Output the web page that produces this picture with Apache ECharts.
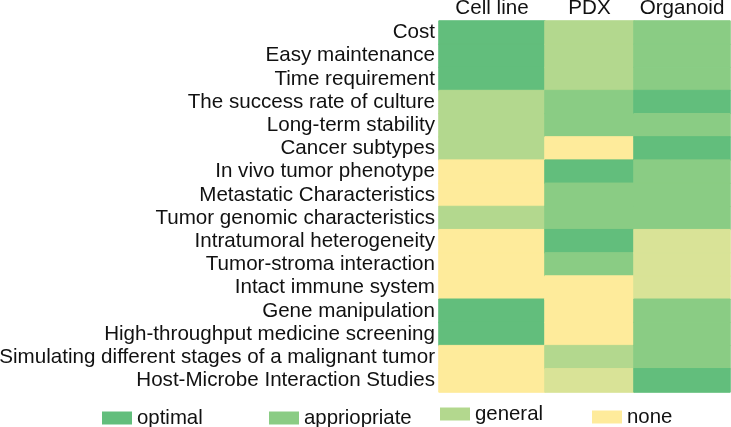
<!DOCTYPE html>
<html><head><meta charset="utf-8">
<script src="https://cdn.jsdelivr.net/npm/echarts@6/dist/echarts.min.js"></script>
<style>html,body{margin:0;padding:0;background:#fff}#c{width:731px;height:427px}</style>
</head><body><div id="c"></div>
<script>
// Levels: 4 = optimal, 3 = appriopriate, 2 = general, 1.5 = (between general and none), 1 = none
const columns = ['Cell line', 'PDX', 'Organoid'];
const rows = ['Cost', 'Easy maintenance', 'Time requirement', 'The success rate of culture',
  'Long-term stability', 'Cancer subtypes', 'In vivo tumor phenotype', 'Metastatic Characteristics',
  'Tumor genomic characteristics', 'Intratumoral heterogeneity', 'Tumor-stroma interaction',
  'Intact immune system', 'Gene manipulation', 'High-throughput medicine screening',
  'Simulating different stages of a malignant tumor', 'Host-Microbe Interaction Studies'];
const cellLine = [4, 4, 4, 2, 2, 2, 1, 1, 2, 1, 1, 1, 4, 4, 1, 1];
const pdx      = [2, 2, 2, 3, 3, 1, 4, 3, 3, 4, 3, 1, 1, 1, 2, 1.5];
const organoid = [3, 3, 3, 4, 3, 4, 3, 3, 3, 1.5, 1.5, 1.5, 3, 3, 3, 4];
const legendNames = ['optimal', 'appriopriate', 'general', 'none'];
const legendValues = [4, 3, 2, 1];

const colorOf = {4: '#62be7c', 3: '#8acc84', 2: '#b3d88e', 1.5: '#d9e397', 1: '#feeb9b'};
const colData = [cellLine, pdx, organoid];
const gridLefts = [439, 545, 634];
const gridWidths = [106, 89, 96];
const font = 'Liberation Sans, Arial, sans-serif';

const grids = [], xAxes = [], yAxes = [], series = [];
colData.forEach((vals, i) => {
  grids.push({left: gridLefts[i], width: gridWidths[i], top: 21, height: 371,
    containLabel: false, outerBoundsMode: 'none'});
  xAxes.push({type: 'category', gridIndex: i, position: 'top', data: [columns[i]],
    axisLine: {show: false}, axisTick: {show: false}, splitLine: {show: false},
    axisLabel: {fontSize: 20.6, color: '#111', fontFamily: font, margin: 2}});
  yAxes.push({type: 'category', gridIndex: i, inverse: true, data: rows,
    axisLine: {show: false}, axisTick: {show: false}, splitLine: {show: false},
    axisLabel: {show: i === 0, fontSize: 20.6, color: '#111', fontFamily: font, margin: 4, interval: 0}});
  series.push({type: 'heatmap', xAxisIndex: i, yAxisIndex: i, z: 2,
    data: vals.map((v, r) => ({value: [0, r, v],
      itemStyle: {borderColor: colorOf[v], borderWidth: 1}})),
    emphasis: {disabled: true}});
});
legendNames.forEach((n, k) => {
  series.push({type: 'bar', name: n, xAxisIndex: 0, yAxisIndex: 0, data: [],
    itemStyle: {color: colorOf[legendValues[k]]}});
});
const legendLefts = [102, 269, 440, 592];
const legendTops = [408, 408, 404, 407];
const legends = legendNames.map((n, k) => ({
  data: [n], left: legendLefts[k], top: legendTops[k], icon: 'rect', itemWidth: 30, itemHeight: 13,
  itemGap: 5, padding: 0, selectedMode: false,
  textStyle: {fontSize: 20.4, color: '#111', fontFamily: font}
}));

const chart = echarts.init(document.getElementById('c'), null, {renderer: 'canvas'});
chart.setOption({
  animation: false,
  grid: grids, xAxis: xAxes, yAxis: yAxes,
  legend: legends,
  visualMap: {show: false, type: 'piecewise', seriesIndex: [0, 1, 2], dimension: 2,
    pieces: Object.keys(colorOf).map(k => ({value: Number(k), color: colorOf[k]}))},
  series: series
});
</script></body></html>
